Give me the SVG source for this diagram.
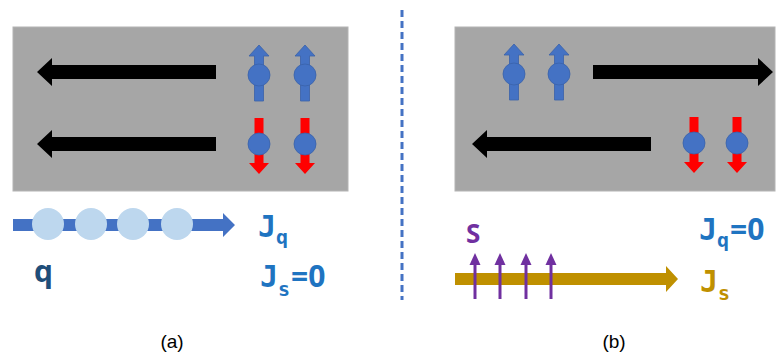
<svg xmlns="http://www.w3.org/2000/svg" width="778" height="355" viewBox="0 0 778 355">
  <style>
    .panel { fill: #a6a6a6; stroke: #b4b4b4; stroke-width: 1; }
    .flow { fill: #000000; }
    .mono { font-family: "DejaVu Sans Mono", "Liberation Mono", monospace; font-weight: bold; }
    .num { font-family: "Open Sans", "Liberation Sans", sans-serif; font-weight: bold; }
    .sans { font-family: "Open Sans", "Liberation Sans", sans-serif; }
    .blue { fill: #1f74c1; }
    .gold { fill: #bf9000; }
    .cap { font-family: "Liberation Sans", "Open Sans", sans-serif; font-size: 19px; fill: #000; text-anchor: middle; }
    .spinUp { fill: #4472c4; stroke: #3a62aa; stroke-width: 0.8; }
    .spinDown { fill: #ff0000; }
    .ball { fill: #4472c4; stroke: #3a62aa; stroke-width: 0.8; }
    .charge { fill: #bdd7ee; }
    .sarrow { stroke: #7030a0; stroke-width: 3; fill: none; }
  </style>
  <defs>
    <!-- electron with spin up -->
    <g id="up">
      <polygon class="spinUp" points="0,-30 10,-19 4.5,-19 4.5,26 -4.5,26 -4.5,-19 -10,-19"/>
      <circle class="ball" cx="0" cy="0" r="11"/>
    </g>
    <!-- electron with spin down -->
    <g id="down">
      <polygon class="spinDown" points="0,30 10,19 4.5,19 4.5,-26 -4.5,-26 -4.5,19 -10,19"/>
      <circle class="ball" cx="0" cy="0" r="11"/>
    </g>
    <!-- purple spin arrow -->
    <g id="sArrow">
      <line class="sarrow" x1="0" y1="299" x2="0" y2="262"/>
      <polygon fill="#7030a0" points="0,253 5.5,265 -5.5,265"/>
    </g>
  </defs>

  <!-- panel (a) -->
  <g id="panel-a">
    <rect class="panel" x="13" y="27" width="335" height="164"/>
    <polygon class="flow" points="216,65 52,65 52,58 37,72 52,86 52,79 216,79"/>
    <polygon class="flow" points="216,137 52,137 52,130 37,144 52,158 52,151 216,151"/>
    <use href="#up" x="259" y="75"/>
    <use href="#up" x="305" y="75"/>
    <use href="#down" x="259" y="144"/>
    <use href="#down" x="305" y="144"/>
  </g>

  <!-- panel (b) -->
  <g id="panel-b">
    <rect class="panel" x="455" y="27" width="320" height="164"/>
    <polygon class="flow" points="593,65 758,65 758,58 773,72 758,86 758,79 593,79"/>
    <polygon class="flow" points="651,137 487,137 487,130 472,144 487,158 487,151 651,151"/>
    <use href="#up" x="514" y="74"/>
    <use href="#up" x="559" y="74"/>
    <use href="#down" x="694" y="143"/>
    <use href="#down" x="737" y="143"/>
  </g>

  <!-- separator -->
  <g id="connectors">
    <line x1="402" y1="10" x2="402" y2="300" stroke="#4472c4" stroke-width="3" stroke-dasharray="7 4"/>
  </g>

  <!-- charge current -->
  <g id="charge-current">
    <polygon fill="#4472c4" points="13,219 223,219 223,213 235,225 223,237 223,231 13,231"/>
    <circle class="charge" cx="48" cy="224" r="16"/>
    <circle class="charge" cx="91" cy="224" r="16"/>
    <circle class="charge" cx="133" cy="224" r="16"/>
    <circle class="charge" cx="177" cy="224" r="16"/>
    <text class="sans" x="34" y="282" font-size="30" font-weight="bold" fill="#1f4e79">q</text>
    <text class="mono blue" x="258" y="237" font-size="30">J<tspan dy="7" font-size="20">q</tspan></text>
    <text class="mono blue" x="260" y="287" font-size="30">J<tspan dy="9" font-size="20">s</tspan><tspan class="num" dy="-9" dx="1">=0</tspan></text>
  </g>

  <!-- spin current -->
  <g id="spin-current">
    <polygon fill="#bf9000" points="455,273 666,273 666,266 678,279 666,292 666,285 455,285"/>
    <use href="#sArrow" x="475"/>
    <use href="#sArrow" x="500"/>
    <use href="#sArrow" x="526"/>
    <use href="#sArrow" x="551"/>
    <text class="sans" x="466" y="243" font-size="26" font-weight="bold" fill="#7030a0">S</text>
    <text class="mono blue" x="699" y="240" font-size="30">J<tspan dy="7" font-size="20">q</tspan><tspan class="num" dy="-7" dx="1">=0</tspan></text>
    <text class="mono gold" x="700" y="292" font-size="30">J<tspan dy="8" font-size="20">s</tspan></text>
  </g>

  <!-- captions -->
  <text class="cap" x="172" y="348">(a)</text>
  <text class="cap" x="614" y="348">(b)</text>
</svg>
